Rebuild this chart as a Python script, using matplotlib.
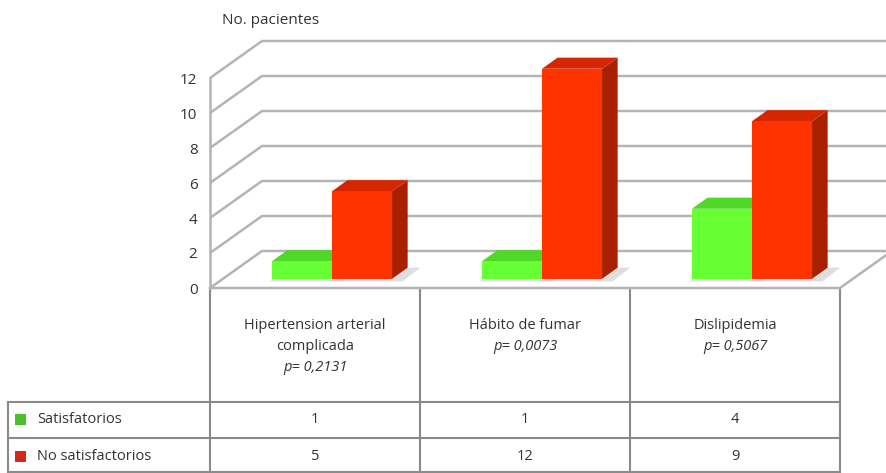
import matplotlib
matplotlib.use("Agg")
import matplotlib.pyplot as plt
from matplotlib.patches import Polygon, Rectangle
import matplotlib.transforms as mtransforms

# ---------------- data ----------------
categories = ["Hipertension arterial\ncomplicada", "Hábito de fumar", "Dislipidemia"]
p_values = ["p= 0,2131", "p= 0,0073", "p= 0,5067"]
series_names = ["Satisfatorios", "No satisfactorios"]
satisfactorios = [1, 1, 4]
no_satisfactorios = [5, 12, 9]
y_ticks = [0, 2, 4, 6, 8, 10, 12]
y_label = "No. pacientes"

# ---------------- style ----------------
FONT = "Open Sans"
FS = 10.5
TXT = "#333333"
GRID = "#b4b4b4"
TABLE = "#8a8a8a"
front_cols = ["#66ff33", "#ff3300"]
top_cols = ["#4fd826", "#d42600"]
side_cols = ["#3fae1a", "#a82000"]
legend_cols = ["#4cc02a", "#d02a1a"]

W, H = 887, 473
fig = plt.figure(figsize=(W / 100, H / 100), dpi=100)
fig.patch.set_facecolor("white")

# overlay in pixel coordinates (for table rows)
ov = fig.add_axes([0, 0, 1, 1])
ov.set_xlim(0, W)
ov.set_ylim(H, 0)
ov.axis("off")

# main chart axes: front plane of the plot box
ax = fig.add_axes([210 / W, (H - 288) / H, 630 / W, 210 / H])
ax.set_xlim(0, len(categories))
ax.set_ylim(0, 12)
ax.patch.set_visible(False)
for s in ax.spines.values():
    s.set_visible(False)
ax.set_xticks([])
ax.set_yticks(y_ticks)
ax.set_yticklabels([str(v) for v in y_ticks], family=FONT, fontsize=11, color=TXT)
ax.tick_params(axis="y", length=0, pad=9)

# depth of the 3D box in data units
DX = 52 / 210.0
DY = 37 / 17.5
n = len(categories)

# back wall + side wall grid
for v in y_ticks:
    ax.plot([0, DX, n + DX + 0.5], [v, v + DY, v + DY], color=GRID, lw=1.8,
            clip_on=False, zorder=1, solid_capstyle="butt")
# floor edges and front left edge
ax.plot([0, n, n + DX], [0, 0, DY], color=GRID, lw=1.8, clip_on=False, zorder=1)
ax.plot([0, 0], [0, 12], color=GRID, lw=1.8, clip_on=False, zorder=1)

# bars
t0, tb = 0.25, 0.30
bw = 0.286
series = [satisfactorios, no_satisfactorios]
for i in range(n):
    for j, vals in enumerate(series):
        v = vals[i]
        x0 = i + 0.233 + j * bw + t0 * DX
        y0 = t0 * DY
        ddx, ddy = tb * DX, tb * DY
        # shadow
        sh = Polygon([(x0 - 0.01, y0 - 0.15), (x0 + bw + 0.05, y0 - 0.15),
                      (x0 + bw + ddx + 0.06, y0 + ddy), (x0 + ddx, y0 + ddy)],
                     closed=True, facecolor="#c8c8c8", edgecolor="none",
                     alpha=0.6, zorder=2, clip_on=False)
        ax.add_patch(sh)
        front = Rectangle((x0, y0), bw, v, facecolor=front_cols[j], edgecolor="none",
                          zorder=3 + j, clip_on=False)
        top = Polygon([(x0, y0 + v), (x0 + bw, y0 + v), (x0 + bw + ddx, y0 + v + ddy),
                       (x0 + ddx, y0 + v + ddy)], closed=True,
                      facecolor=top_cols[j], edgecolor="none", zorder=3 + j, clip_on=False)
        side = Polygon([(x0 + bw, y0), (x0 + bw + ddx, y0 + ddy),
                        (x0 + bw + ddx, y0 + v + ddy), (x0 + bw, y0 + v)], closed=True,
                       facecolor=side_cols[j], edgecolor="none", zorder=3 + j, clip_on=False)
        ax.add_patch(side)
        ax.add_patch(top)
        ax.add_patch(front)

# axis title
ov.text(222, 21, y_label, family=FONT, fontsize=11, color=TXT, ha="left", va="center")

# ---------------- data table ----------------
tr = mtransforms.blended_transform_factory(ax.transData, ov.transData)
y_top, y_r1, y_r2, y_bot = 289, 402, 438, 472
x_leg = 8
for k in range(n + 1):
    ov.plot([k, k], [y_top, y_bot], transform=tr, color=TABLE, lw=1.5, clip_on=False)
for yy in (y_r1, y_r2, y_bot):
    ov.plot([x_leg, 840], [yy, yy], color=TABLE, lw=1.5, clip_on=False)
ov.plot([x_leg, x_leg], [y_r1, y_bot], color=TABLE, lw=1.5, clip_on=False)

for i, (cat, p) in enumerate(zip(categories, p_values)):
    lines = cat.split("\n")
    for k, line in enumerate(lines):
        ov.text(i + 0.5, 325 + 21 * k, line, transform=tr, ha="center", va="center",
                family=FONT, fontsize=FS, color=TXT)
    ov.text(i + 0.5, 325 + 21 * len(lines), p, transform=tr, ha="center", va="center",
            family=FONT, fontsize=FS, color=TXT, style="italic")

row_y = [419, 456]
for j, (name, vals) in enumerate(zip(series_names, series)):
    yy = row_y[j]
    ov.add_patch(Rectangle((15, yy - 5.5), 11, 11, facecolor=legend_cols[j],
                           edgecolor="none"))
    ov.text(37, yy, name, ha="left", va="center", family=FONT, fontsize=FS, color=TXT)
    for i, v in enumerate(vals):
        ov.text(i + 0.5, yy, str(v), transform=tr, ha="center", va="center",
                family=FONT, fontsize=FS, color=TXT)

fig.savefig("out.png", dpi=100)
